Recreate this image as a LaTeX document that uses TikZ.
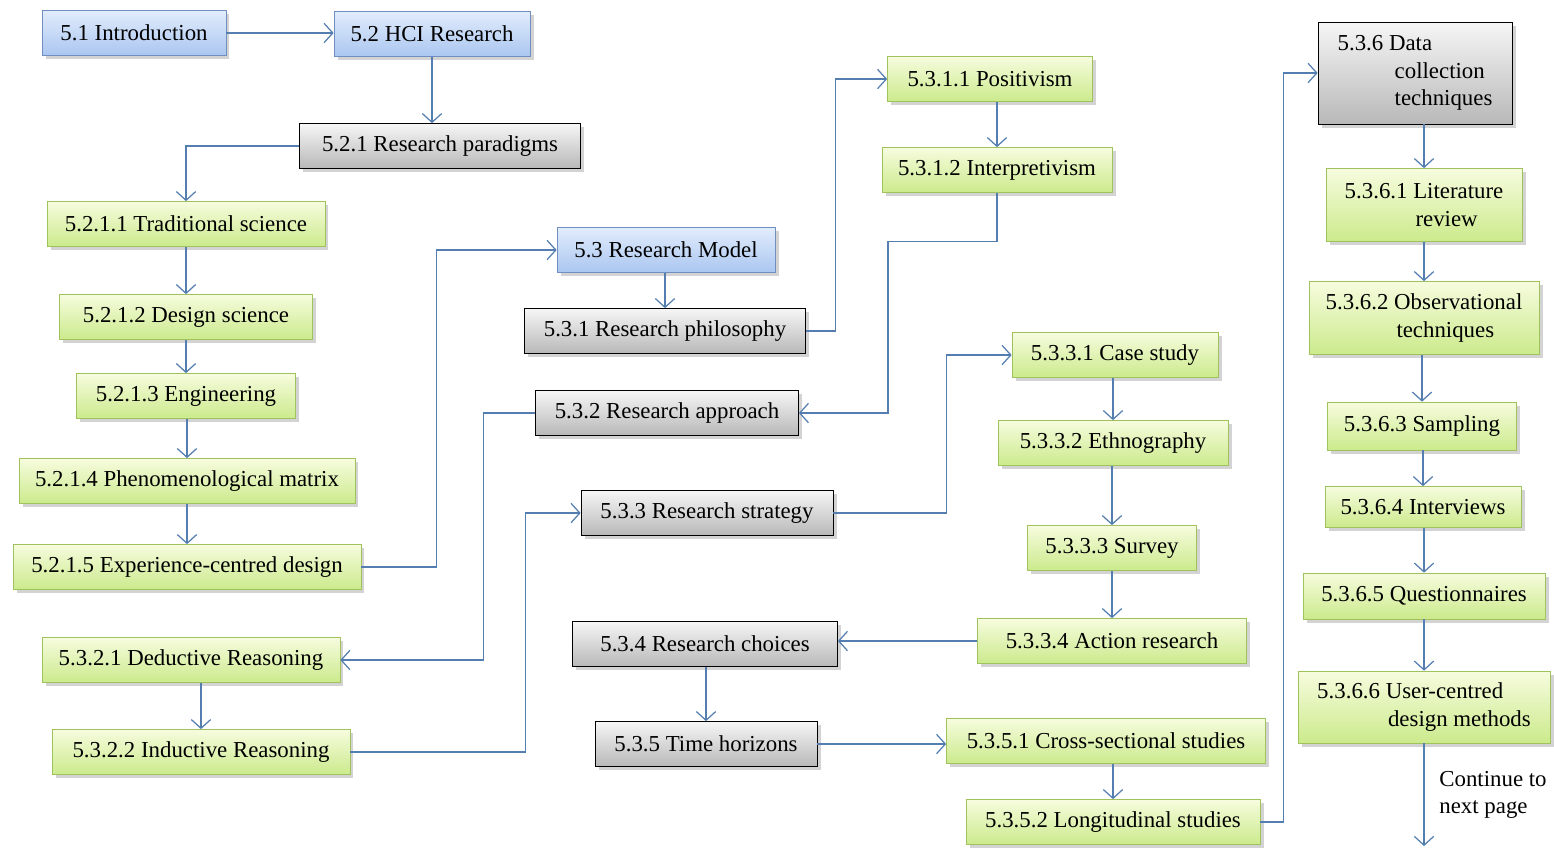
\documentclass[tikz,border=0pt]{standalone}
\usepackage{fontspec}
\setmainfont{Liberation Serif}
\usetikzlibrary{calc,positioning,arrows.meta,shadows}

\definecolor{bluetop}{RGB}{226,236,252}
\definecolor{bluebot}{RGB}{170,198,240}
\definecolor{blueline}{RGB}{112,143,192}
\definecolor{greentop}{RGB}{246,252,222}
\definecolor{greenbot}{RGB}{204,234,140}
\definecolor{greenline}{RGB}{160,194,92}
\definecolor{graytop}{RGB}{246,246,246}
\definecolor{graybot}{RGB}{184,184,184}
\definecolor{arrowblue}{RGB}{84,126,176}

\begin{document}
\begin{tikzpicture}
        [x=0.02cm, y=-0.02cm,
          box/.style={draw, minimum height=0.9cm, inner xsep=6pt, inner ysep=3pt,
            font=\fontsize{13}{15.5}\selectfont,
            drop shadow={shadow xshift=2pt, shadow yshift=-2pt, opacity=0.35}},
          bluebox/.style={box, draw=blueline, top color=bluetop, bottom color=bluebot},
          greenbox/.style={box, draw=greenline, top color=greentop, bottom color=greenbot},
          graybox/.style={box, draw=black, top color=graytop, bottom color=graybot},
          arr/.style={draw=arrowblue, line width=0.7pt, -{Straight Barb[length=5pt,width=11pt]}}]
        \useasboundingbox (0,0) rectangle (1554,849);

        \node[bluebox, minimum width=3.68cm] (intro) at (134,33) {5.1 Introduction};
        \node[bluebox, minimum width=3.92cm] (hci) at (432,34) {5.2 HCI Research};
        \node[graybox, minimum width=5.62cm] (paradigms) at (440,146) {5.2.1 Research paradigms};
        \node[greenbox, minimum width=5.56cm] (trad) at (186,224) {5.2.1.1 Traditional science};
        \node[greenbox, minimum width=5.06cm] (design) at (186,317) {5.2.1.2 Design science};
        \node[greenbox, minimum width=4.38cm] (eng) at (186,396) {5.2.1.3 Engineering};
        \node[greenbox, minimum width=6.72cm] (phen) at (187,481) {5.2.1.4 Phenomenological matrix};
        \node[greenbox, minimum width=6.96cm] (exp) at (187,567) {5.2.1.5 Experience-centred design};

        \node[bluebox, minimum width=4.36cm] (model) at (666,250) {5.3 Research Model};
        \node[graybox, minimum width=5.62cm] (phil) at (665,331) {5.3.1 Research philosophy};
        \node[graybox, minimum width=5.26cm] (approach) at (667,413) {5.3.2 Research approach};
        \node[graybox, minimum width=5.04cm] (strategy) at (707,513) {5.3.3 Research strategy};
        \node[graybox, minimum width=5.30cm] (choices) at (705,644) {5.3.4 Research choices};
        \node[graybox, minimum width=4.44cm] (time) at (706,744) {5.3.5 Time horizons};
        \node[greenbox, minimum width=5.96cm] (deductive) at (191,660) {5.3.2.1 Deductive Reasoning};
        \node[greenbox, minimum width=5.96cm] (inductive) at (201,752) {5.3.2.2 Inductive Reasoning};

        \node[greenbox, minimum width=4.10cm] (positivism) at (990,79) {5.3.1.1 Positivism};
        \node[greenbox, minimum width=4.60cm] (interp) at (997,170) {5.3.1.2 Interpretivism};
        \node[greenbox, minimum width=4.12cm] (case) at (1115,355) {5.3.3.1 Case study};
        \node[greenbox, minimum width=4.60cm] (ethno) at (1113,443) {5.3.3.2 Ethnography};
        \node[greenbox, minimum width=3.38cm] (survey) at (1112,548) {5.3.3.3 Survey};
        \node[greenbox, minimum width=5.38cm] (action) at (1112,641) {5.3.3.4 Action research};
        \node[greenbox, minimum width=6.38cm] (cross) at (1106,741) {5.3.5.1 Cross-sectional studies};
        \node[greenbox, minimum width=5.88cm] (longit) at (1113,822) {5.3.5.2 Longitudinal studies};

        \node[graybox, minimum width=3.88cm, minimum height=2.04cm, align=left] (data) at (1415,73)
          {5.3.6 Data\\\hspace*{2.5em}collection\\\hspace*{2.5em}techniques};
        \node[greenbox, minimum width=3.92cm, minimum height=1.46cm, align=left] (lit) at (1424,205)
          {5.3.6.1 Literature\\\hspace*{3.1em}review};
        \node[greenbox, minimum width=4.60cm, minimum height=1.46cm, align=left] (obs) at (1424,318)
          {5.3.6.2 Observational\\\hspace*{3.1em}techniques};
        \node[greenbox, minimum width=3.78cm, minimum height=0.96cm] (sampling) at (1422,426) {5.3.6.3 Sampling};
        \node[greenbox, minimum width=3.92cm, minimum height=0.82cm] (interviews) at (1423,507) {5.3.6.4 Interviews};
        \node[greenbox, minimum width=4.84cm, minimum height=0.92cm] (quest) at (1424,596) {5.3.6.5 Questionnaires};
        \node[greenbox, minimum width=5.04cm, minimum height=1.44cm, align=left] (ucd) at (1424,707)
          {5.3.6.6 User-centred\\\hspace*{3.1em}design methods};
        \node[align=left, font=\fontsize{13}{15.5}\selectfont] (cont) at (1493,795) {Continue to\\next page};
        \coordinate (next) at (1424,846);

        \draw[arr] (intro.east) -- (intro.east -| hci.west);
        \draw[arr] (hci.south) -- (hci.south |- paradigms.north);
        \draw[arr] (paradigms.west) -| (trad.north);
        \draw[arr] (exp.east) -- ++(75,0) |- (model.west);
        \draw[arr] (phil.east) -- ++(30,0) |- (positivism.west);
        \draw[arr] (interp.south) |- ++(-109,49) |- (approach.east);
        \draw[arr] (approach.west) -- ++(-52,0) |- (deductive.east);
        \draw[arr] (inductive.east) -- ++(175,0) |- (strategy.west);
        \draw[arr] (strategy.east) -- ++(113,0) |- (case.west);
        \draw[arr] (action.west) -- (action.west -| choices.east);
        \draw[arr] (time.east) -- (time.east -| cross.west);
        \draw[arr] (longit.east) -- ++(23,0) |- (data.west);
        \draw[arr] (ucd.south) -- (next);
        \foreach \a/\b in {trad/design, design/eng, eng/phen, phen/exp, model/phil,
            positivism/interp, deductive/inductive, case/ethno, ethno/survey,
            survey/action, choices/time, cross/longit, data/lit, lit/obs,
            obs/sampling, sampling/interviews, interviews/quest, quest/ucd}
          \draw[arr] (\b.north |- \a.south) -- (\b.north);
      \end{tikzpicture}
\end{document}
